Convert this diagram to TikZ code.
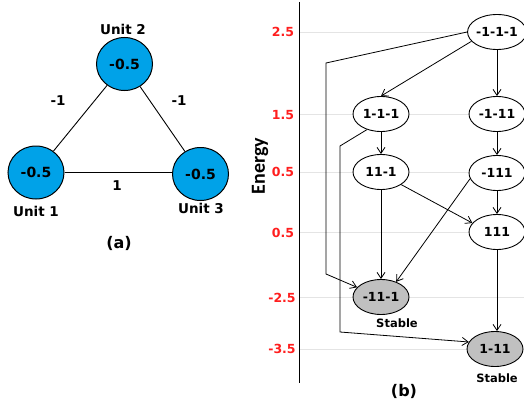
\documentclass[tikz,border=0pt]{standalone}
\usepackage{fontspec}
\setmainfont{DejaVu Sans}
\newfontfamily\energyfont{Carlito}
\usetikzlibrary{arrows.meta,shapes.geometric}
\definecolor{unitblue}{RGB}{0,162,232}
\definecolor{stablegray}{RGB}{192,192,192}
\definecolor{tickred}{RGB}{255,30,30}
\definecolor{gridgray}{RGB}{228,228,228}
\tikzset{
  unitnode/.style={ellipse,draw=black,line width=1pt,fill=unitblue,minimum width=56pt,minimum height=53pt,inner sep=0pt,font=\bfseries\fontsize{14}{14}\selectfont},
  statenode/.style={ellipse,draw=black,line width=0.9pt,fill=white,minimum width=56pt,minimum height=35pt,inner sep=0pt,font=\bfseries\fontsize{12.5}{12.5}\selectfont},
  stablenode/.style={statenode,fill=stablegray},
  lbl/.style={font=\bfseries\fontsize{13.5}{13.5}\selectfont,inner sep=0pt},
  ticklbl/.style={font=\bfseries\fontsize{12.5}{12.5}\selectfont,text=tickred,inner sep=0pt},
  caplbl/.style={font=\bfseries\fontsize{16}{16}\selectfont,inner sep=0pt},
  stablelbl/.style={font=\bfseries\fontsize{11.5}{11.5}\selectfont,inner sep=0pt},
  edge/.style={line width=0.9pt},
  arr/.style={line width=0.8pt,-{Straight Barb[length=6pt,width=8pt]}},
  gridln/.style={gridgray,line width=0.8pt}
}
\begin{document}
\begin{tikzpicture}[x=1pt,y=-1pt]
\useasboundingbox (0,0) rectangle (524,404);
% ---------- (a) ----------
\node[unitnode] (u2) at (124.5,64) {-0.5};
\node[unitnode] (u1) at (36,172.5) {-0.5};
\node[unitnode] (u3) at (200.5,174) {-0.5};
\draw[edge] (u1) -- (u2);
\draw[edge] (u2) -- (u3);
\draw[edge] (u1.east |- 0,172.7) -- (u3.west |- 0,172.7);
\node[lbl] (l2) at (123,29) {Unit 2};
\node[lbl] (l1) at (36,211) {Unit 1};
\node[lbl] (l3) at (201,208) {Unit 3};
\node[lbl] (w12) at (58,101) {-1};
\node[lbl] (w23) at (179,101) {-1};
\node[lbl] (w13) at (117,186) {1};
\node[caplbl] (capa) at (119,243) {(a)};
% ---------- (b) ----------
\foreach \yy in {32,114,172,232.7,297.7,349.3}
  \draw[gridln] (300,\yy) -- (524,\yy);
\draw[line width=1pt] (299,2) -- (299,383);
\node[ticklbl] (t1) at (283,32) {2.5};
\node[ticklbl] (t2) at (283,115) {1.5};
\node[ticklbl] (t3) at (283,172) {0.5};
\node[ticklbl] (t4) at (283,233) {0.5};
\node[ticklbl] (t5) at (282,298) {-2.5};
\node[ticklbl] (t6) at (282,349) {-3.5};
\node[rotate=90,font=\energyfont\bfseries\fontsize{20}{20}\selectfont,inner sep=0pt] (energy) at (260,166) {Energy};
% states
\node[statenode] (t) at (497,32) {-1-1-1};
\node[statenode] (a) at (381,114) {1-1-1};
\node[statenode] (e) at (497,114) {-1-11};
\node[statenode] (b) at (381,172) {11-1};
\node[statenode] (d) at (497,173) {-111};
\node[statenode] (c) at (497,232) {111};
\node[stablenode] (s1) at (381,297) {-11-1};
\node[stablenode] (s2) at (495,349) {1-11};
\node[stablelbl] (st1) at (397,323) {Stable};
\node[stablelbl] (st2) at (497,378) {Stable};
\node[caplbl] (capb) at (404,391) {(b)};
% connectors
\draw[arr] (t.200) -- (a.north);
\draw[arr] (t.south) -- (e.north);
\draw[arr] (t.west) -- (326,63) -- (326,274) -- (s1.158);
\draw[arr] (a.228) -- (340,146) -- (340,332) -- (s2.165);
\draw[arr] (a.south) -- (b.north);
\draw[arr] (e.south) -- (d.north);
\draw[arr] (b.south) -- (s1.north);
\draw[arr] (b.-32) -- (c.160);
\draw[arr] (d.192) -- (s1.45);
\draw[arr] (d.south) -- (c.north);
\draw[arr] (c.south) -- (s2.north -| c.south);
\end{tikzpicture}
\end{document}
